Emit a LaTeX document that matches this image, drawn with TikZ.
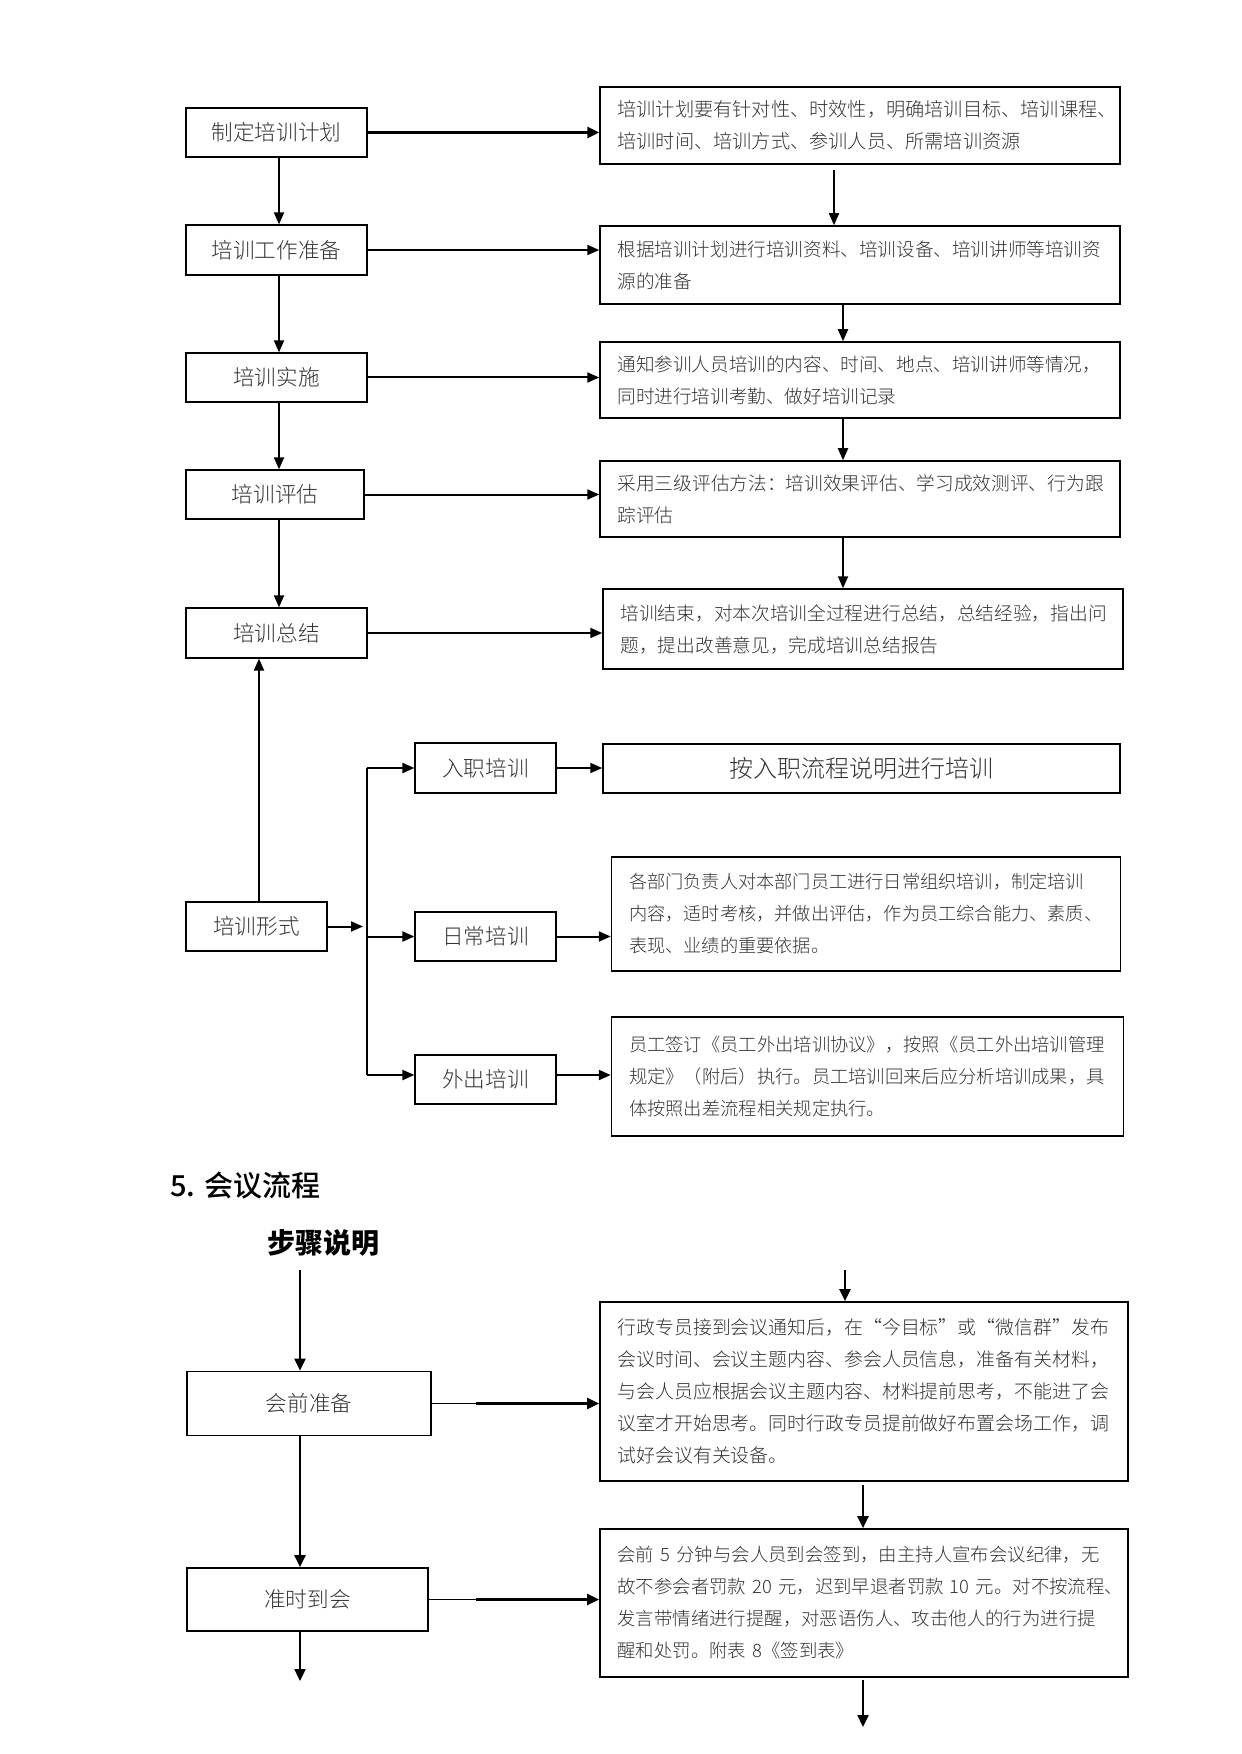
\documentclass[tikz,border=0pt]{standalone}
\usepackage{fontspec}
\usetikzlibrary{arrows.meta}
\IfFontExistsTF{Noto Sans CJK SC Light}{\newfontfamily\cjk{Noto Sans CJK SC Light}}{\newfontfamily\cjk{Noto Sans CJK SC}}
\IfFontExistsTF{Noto Sans CJK SC Medium}{\newfontfamily\cjkm{Noto Sans CJK SC Medium}}{\newfontfamily\cjkm{Noto Sans CJK SC}}
\newfontfamily\cjkh{Noto Sans CJK SC}
\newcommand\fwq[1]{{\addfontfeature{RawFeature=+fwid}#1}}
\newcommand\fs[1]{\cjk\fontsize{#1}{16}\selectfont}
\begin{document}
\begin{tikzpicture}[x=0.5pt,y=-0.5pt,
  lbox/.style={draw, line width=0.6pt, font=\cjk\fontsize{10.8}{13}\selectfont, text=black!80, inner sep=0pt},
  sbox/.style={lbox, line width=0.85pt},
  rbox/.style={draw, line width=0.75pt, font=\fs{9.3}, text=black!80, align=left, inner ysep=0pt, inner xsep=8.75pt},
  tbox/.style={rbox, line width=0.85pt},
  arr/.style={line width=1pt, -{Triangle[length=6pt,width=5pt]}},
  arrthick/.style={line width=1.6pt, -{Triangle[length=6pt,width=5.5pt]}},
  arrthin/.style={line width=0.8pt, -{Triangle[length=6pt,width=5pt]}},
  arrs/.style={line width=1.15pt, -{Triangle[length=6pt,width=5.5pt]}},
  plain/.style={line width=1pt},
]
\useasboundingbox (0,0) rectangle (1241,1754);

% ---- left column ----
\node[lbox, minimum width=90.5pt, minimum height=24.5pt] (L1) at (276.5,132.5) {制定培训计划};
\node[lbox, minimum width=90.5pt, minimum height=25pt] (L2) at (276.5,250) {培训工作准备};
\node[lbox, minimum width=90.5pt, minimum height=24.5pt] (L3) at (276.5,377.5) {培训实施};
\node[lbox, minimum width=89pt, minimum height=24.5pt] (L4) at (275,494.5) {培训评估};
\node[lbox, minimum width=90.5pt, minimum height=25pt] (L5) at (276.5,633) {培训总结};
\node[lbox, minimum width=70.5pt, minimum height=24.5pt] (L6) at (256.5,926.5) {培训形式};

% ---- right column ----
\node[rbox, font=\fs{9.6}, text width=242.5pt, minimum width=260pt, minimum height=38.5pt] (R1) at (860,125.5)
  {培训计划要有针对性、时效性，明确培训目标、培训课程、\\培训时间、培训方式、参训人员、所需培训资源};
\node[rbox, text width=242.5pt, minimum width=260pt, minimum height=39pt] (R2) at (860,265)
  {根据培训计划进行培训资料、培训设备、培训讲师等培训资\\源的准备};
\node[rbox, text width=242.5pt, minimum width=260pt, minimum height=38pt] (R3) at (860,380)
  {通知参训人员培训的内容、时间、地点、培训讲师等情况，\\同时进行培训考勤、做好培训记录};
\node[rbox, font=\fs{9.35}, text width=242.5pt, minimum width=260pt, minimum height=38pt] (R4) at (860,499)
  {采用三级评估方法：培训效果评估、学习成效测评、行为跟\\踪评估};
\node[rbox, font=\fs{9.35}, text width=242.5pt, minimum width=260pt, minimum height=40pt] (R5) at (863,629)
  {培训结束，对本次培训全过程进行总结，总结经验，指出问\\题，提出改善意见，完成培训总结报告};

% ---- training forms ----
\node[lbox, minimum width=70.5pt, minimum height=25pt] (M1) at (485.5,768) {入职培训};
\node[lbox, minimum width=70.5pt, minimum height=24.5pt] (M2) at (485.5,936.5) {日常培训};
\node[lbox, minimum width=70.5pt, minimum height=24.5pt] (M3) at (485.5,1079.5) {外出培训};

\node[lbox, line width=0.75pt, minimum width=258.5pt, minimum height=24.5pt, font=\cjk\fontsize{12}{14}\selectfont] (N1) at (861.5,768.5) {按入职流程说明进行培训};
\node[rbox, font=\fs{9.1}, text width=237pt, minimum width=254pt, minimum height=57pt] (N2) at (866,914)
  {各部门负责人对本部门员工进行日常组织培训，制定培训\\内容，适时考核，并做出评估，作为员工综合能力、素质、\\表现、业绩的重要依据。};
\node[rbox, font=\fs{9.15}, text width=238.5pt, minimum width=255.5pt, minimum height=59.5pt] (N3) at (867.5,1076.5)
  {员工签订《员工外出培训协议》，按照《员工外出培训管理\\规定》（附后）执行。员工培训回来后应分析培训成果，具\\体按照出差流程相关规定执行。};

% ---- section 2 ----
\node[anchor=west, inner sep=0pt, font=\cjkm\fontsize{14.5}{16}\selectfont] (H1) at (170,1186) {5. 会议流程};
\node[inner sep=0pt, font=\cjkh\bfseries\fontsize{14}{16}\selectfont] (H2) at (323.5,1243) {步骤说明};

\node[sbox, minimum width=122pt, minimum height=32pt] (S1) at (309,1403.5) {会前准备};
\node[sbox, minimum width=120.5pt, minimum height=31.5pt] (S2) at (307.5,1599.5) {准时到会};

\node[tbox, font=\fs{9.45}, text width=246.5pt, minimum width=264pt, minimum height=89.5pt] (A) at (864,1391.5)
  {行政专员接到会议通知后，在\fwq{“}今目标\fwq{”}或\fwq{“}微信群\fwq{”}发布\\会议时间、会议主题内容、参会人员信息，准备有关材料，\\与会人员应根据会议主题内容、材料提前思考，不能进了会\\议室才开始思考。同时行政专员提前做好布置会场工作，调\\试好会议有关设备。};
\node[tbox, font=\fs{9.2}, text width=246.5pt, minimum width=264pt, minimum height=74pt] (B) at (864,1603)
  {\mbox{会前 5 分钟与会人员到会签到，由主持人宣布会议纪律，无}\\\mbox{故不参会者罚款 20 元，迟到早退者罚款 10 元。对不按流程、}\\\mbox{发言带情绪进行提醒，对恶语伤人、攻击他人的行为进行提}\\\mbox{醒和处罚。附表 8《签到表》}};

% ---- helper coordinates ----
\coordinate (lx) at (279,0);
\coordinate (r1a) at (834,170);
\coordinate (cx) at (843,0);
\coordinate (ux) at (259,0);
\coordinate (ftip) at (363,0);
\coordinate (brT) at (367,768);
\coordinate (brM) at (367,936.5);
\coordinate (brB) at (367,1075);
\coordinate (s1in) at (300,1270);
\coordinate (s2out) at (300,1681);
\coordinate (k1) at (476,0);
\coordinate (ain) at (845,1270);
\coordinate (abx) at (863,1485);
\coordinate (bo1) at (863,1680);
\coordinate (bo2) at (863,1727);

% ---- connectors section 1 ----
\draw[arrthick] (L1.east) -- (L1.east -| R1.west);
\draw[arr] (L2.east) -- (L2.east -| R2.west);
\draw[arr] (L3.east) -- (L3.east -| R3.west);
\draw[arr] (L4.east) -- (L4.east -| R4.west);
\draw[arr] (L5.east) -- (L5.east -| R5.west);

\draw[arr] (L1.south -| lx) -- (L2.north -| lx);
\draw[arr] (L2.south -| lx) -- (L3.north -| lx);
\draw[arr] (L3.south -| lx) -- (L4.north -| lx);
\draw[arr] (L4.south -| lx) -- (L5.north -| lx);

\draw[arrthin] (r1a) -- (r1a |- R2.north);
\draw[arr] (R2.south -| cx) -- (R3.north -| cx);
\draw[arr] (R3.south -| cx) -- (R4.north -| cx);
\draw[arr] (R4.south -| cx) -- (R5.north -| cx);

\draw[arr] (L6.north -| ux) -- (L5.south -| ux);
\draw[arr] (L6.east) -- (L6.east -| ftip);
\draw[plain] (brT) -- (brB);
\draw[arr] (brT) -- (brT -| M1.west);
\draw[arr] (brM) -- (brM -| M2.west);
\draw[arr] (brB) -- (brB -| M3.west);
\draw[arr] (M1.east) -- (M1.east -| N1.west);
\draw[arr] (M2.east) -- (M2.east -| N2.west);
\draw[arr] (brB -| M3.east) -- (brB -| N3.west);

% ---- connectors section 2 ----
\draw[arrs] (s1in) -- (s1in |- S1.north);
\draw[arrs] (S1.south -| s1in) -- (S2.north -| s1in);
\draw[arrs] (S2.south -| s1in) -- (s2out);
\draw[line width=0.7pt] (S1.east) -- (S1.east -| k1);
\draw[arrs] (S1.east -| k1) -- (S1.east -| A.west);
\draw[line width=0.7pt] (S2.east) -- (S2.east -| k1);
\draw[arrs] (S2.east -| k1) -- (S2.east -| B.west);
\draw[arrs] (ain) -- (ain |- A.north);
\draw[arrs] (abx) -- (abx |- B.north);
\draw[arrs] (bo1) -- (bo2);
\end{tikzpicture}
\end{document}
